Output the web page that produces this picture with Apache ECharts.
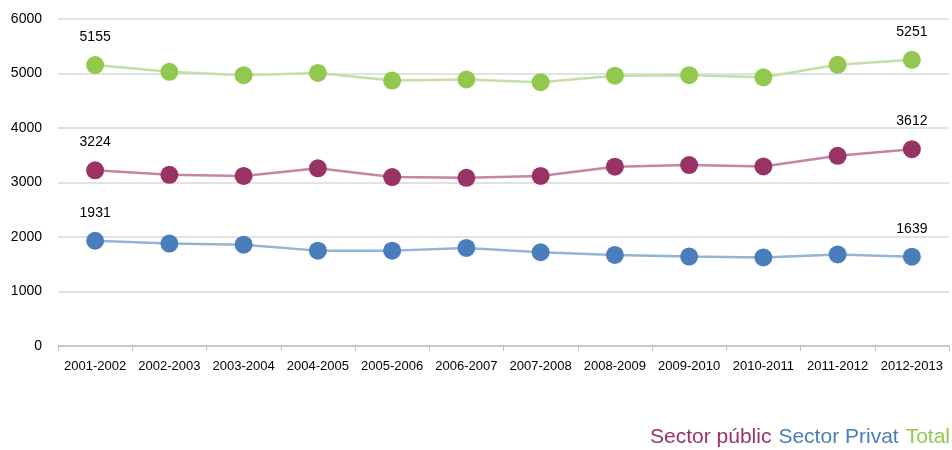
<!DOCTYPE html>
<html><head><meta charset="utf-8">
<script src="https://cdn.jsdelivr.net/npm/echarts@6/dist/echarts.min.js"></script>
<style>html,body{margin:0;padding:0;background:#fff}#c{width:952px;height:450px}</style>
</head><body><div id="c"></div>
<script>
const categories = ['2001-2002','2002-2003','2003-2004','2004-2005','2005-2006','2006-2007','2007-2008','2008-2009','2009-2010','2010-2011','2011-2012','2012-2013'];
const sectorPublic = [3224,3140,3120,3260,3100,3085,3120,3290,3320,3295,3490,3612];
const sectorPrivat = [1931,1880,1860,1750,1750,1800,1720,1670,1640,1625,1680,1639];
const total = [5155,5030,4970,5010,4870,4890,4840,4960,4970,4930,5160,5251];
const yTicks = [0,1000,2000,3000,4000,5000,6000];

function endLabels(arr){
  return arr.map((v,i)=>({value:v, label:{show:(i===0||i===arr.length-1)}}));
}
function mk(name, data, lineColor, markerColor){
  return {
    name, type:'line', data:endLabels(data),
    symbol:'circle', symbolSize:18,
    lineStyle:{color:lineColor, width:2.5},
    itemStyle:{color:markerColor},
    label:{show:false, position:'top', distance:12, color:'#000', fontSize:14, fontFamily:'Liberation Sans'},
    emphasis:{disabled:true}, animation:false
  };
}
const chart = echarts.init(document.getElementById('c'));
chart.setOption({
  animation:false,
  grid:{left:58, right:3, top:19, bottom:104},
  legend:{
    right:2, bottom:0, icon:'none', itemWidth:0, itemGap:2, padding:[0,0,2,0],
    textStyle:{fontSize:21, fontFamily:'Liberation Sans'},
    data:[
      {name:'Sector públic', textStyle:{color:'#993366'}},
      {name:'Sector Privat', textStyle:{color:'#4a7ebb'}},
      {name:'Total', textStyle:{color:'#92c84e'}}
    ]
  },
  xAxis:{
    type:'category', data:categories, boundaryGap:true,
    axisLine:{lineStyle:{color:'#bfbfbf', width:1.5}},
    axisTick:{show:true, length:5, lineStyle:{color:'#bfbfbf'}},
    axisLabel:{color:'#000', fontSize:13, fontFamily:'Liberation Sans', margin:14, interval:0}
  },
  yAxis:{
    type:'value', min:yTicks[0], max:yTicks[yTicks.length-1], interval:1000,
    axisLine:{show:false}, axisTick:{show:false},
    splitLine:{lineStyle:{color:'#d9d9d9', width:1.5}},
    axisLabel:{color:'#000', fontSize:14, fontFamily:'Liberation Sans', margin:16, formatter:v=>String(v)}
  },
  series:[
    mk('Total', total, '#c4e0a6', '#92c84e'),
    mk('Sector públic', sectorPublic, '#c486a4', '#993366'),
    mk('Sector Privat', sectorPrivat, '#95b3d7', '#4a7ebb')
  ]
});
</script></body></html>
